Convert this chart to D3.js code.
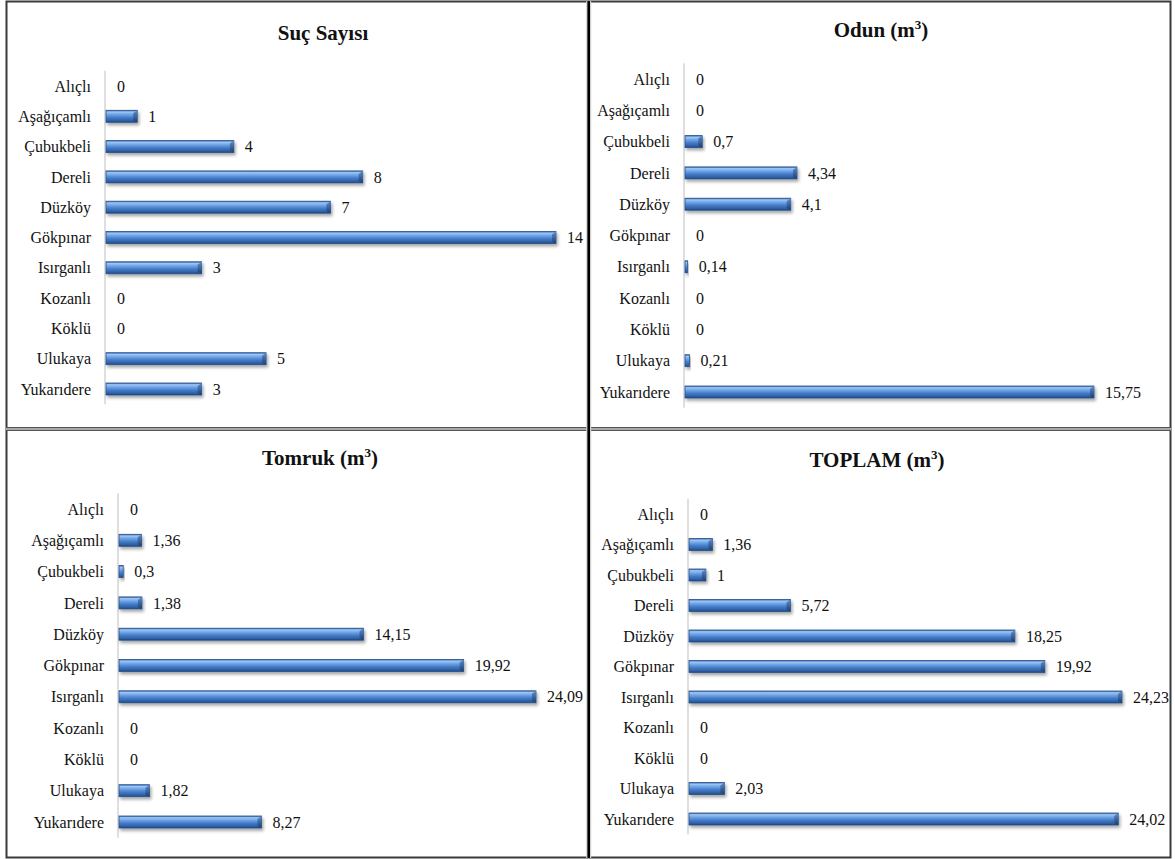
<!DOCTYPE html>
<html>
<head>
<meta charset="utf-8">
<script src="https://cdn.jsdelivr.net/npm/d3@7"></script>
<style>
  html, body { margin: 0; padding: 0; background: #fff; }
  svg { display: block; font-family: 'Liberation Serif'; }
  svg text { font-family: 'Liberation Serif'; }
</style>
</head>
<body>
<svg id="chart" width="1175" height="859"></svg>
<script>
// ---- Data ----
const categories = ["Alıçlı", "Aşağıçamlı", "Çubukbeli", "Dereli", "Düzköy", "Gökpınar", "Isırganlı", "Kozanlı", "Köklü", "Ulukaya", "Yukarıdere"];
const sucSayisi = [0, 1, 4, 8, 7, 14, 3, 0, 0, 5, 3];
const odun      = [0, 0, 0.7, 4.34, 4.1, 0, 0.14, 0, 0, 0.21, 15.75];
const tomruk    = [0, 1.36, 0.3, 1.38, 14.15, 19.92, 24.09, 0, 0, 1.82, 8.27];
const toplam    = [0, 1.36, 1, 5.72, 18.25, 19.92, 24.23, 0, 0, 2.03, 24.02];
const titles    = [["Suç Sayısı", false], ["Odun (m", true], ["Tomruk (m", true], ["TOPLAM (m", true]];

const FONT = "'Liberation Serif'";

// ---- Layout (positions only) ----
const panels = [
  { values: sucSayisi, title: titles[0], titleX: 323, titleY: 40, x0: 105, xMax: 14,    x1: 556,  yTop: 86,  yBot: 389 },
  { values: odun,      title: titles[1], titleX: 881, titleY: 37, x0: 684, xMax: 15.75, x1: 1094, yTop: 79,  yBot: 392 },
  { values: tomruk,    title: titles[2], titleX: 320, titleY: 465, x0: 118, xMax: 24.09, x1: 536, yTop: 509, yBot: 822 },
  { values: toplam,    title: titles[3], titleX: 877, titleY: 467, x0: 688, xMax: 24.23, x1: 1122, yTop: 514, yBot: 819 }
];

const svg = d3.select("#chart");
const defs = svg.append("defs");

const grad = defs.append("linearGradient").attr("id", "barGrad")
  .attr("x1", 0).attr("y1", 0).attr("x2", 0).attr("y2", 1);
[["0%", "#3566a8"], ["14%", "#9cc6f4"], ["35%", "#6fa3e6"], ["62%", "#4379c6"], ["85%", "#2f62a6"], ["100%", "#1c4379"]]
  .forEach(([o, c]) => grad.append("stop").attr("offset", o).attr("stop-color", c));

const endGrad = defs.append("linearGradient").attr("id", "endGrad")
  .attr("x1", 0).attr("y1", 0).attr("x2", 0).attr("y2", 1);
[["0%", "#5f8dcc"], ["100%", "#1a3f72"]]
  .forEach(([o, c]) => endGrad.append("stop").attr("offset", o).attr("stop-color", c));

const shadow = defs.append("filter").attr("id", "shadow")
  .attr("x", "-10%").attr("y", "-50%").attr("width", "130%").attr("height", "250%");
shadow.append("feDropShadow").attr("dx", 1.5).attr("dy", 2.5).attr("stdDeviation", 1.6)
  .attr("flood-color", "#000").attr("flood-opacity", 0.35);

const fmt = v => String(v).replace(".", ",");

panels.forEach(p => {
  const g = svg.append("g");
  const x = d3.scaleLinear().domain([0, p.xMax]).range([p.x0, p.x1]);
  const y = d3.scalePoint().domain(categories).range([p.yTop, p.yBot]);
  const step = y.step();
  const barH = 12;

  // title
  const t = g.append("text").attr("x", p.titleX).attr("y", p.titleY)
    .attr("text-anchor", "middle").attr("font-weight", "bold").attr("font-size", 21)
    .style("font-family", FONT).attr("fill", "#111");
  t.append("tspan").text(p.title[0]);
  if (p.title[1]) {
    t.append("tspan").attr("font-size", 13).attr("dy", -8).text("3");
    t.append("tspan").attr("dy", 8).text(")");
  }

  // axis line
  g.append("line")
    .attr("x1", x(0)).attr("x2", x(0))
    .attr("y1", p.yTop - step / 2).attr("y2", p.yBot + step / 2)
    .attr("stroke", "#d4d4d4").attr("stroke-width", 1.5);

  // category labels
  g.selectAll(".cat").data(categories).join("text")
    .attr("x", x(0) - 14).attr("y", d => y(d)).attr("dy", "0.35em")
    .attr("text-anchor", "end").attr("font-size", 16)
    .style("font-family", FONT).attr("fill", "#111").text(d => d);

  const rows = categories.map((c, i) => ({ c, v: p.values[i] }));

  // bars
  const bars = g.selectAll(".bar").data(rows.filter(d => d.v > 0)).join("g")
    .attr("filter", "url(#shadow)");
  bars.append("rect")
    .attr("x", x(0) + 1).attr("y", d => y(d.c) - barH / 2)
    .attr("width", d => Math.max(2.5, x(d.v) - x(0) - 1)).attr("height", barH)
    .attr("fill", "url(#barGrad)").attr("stroke", "#28528d").attr("stroke-width", 0.8);
  bars.filter(d => x(d.v) - x(0) > 8).append("path")
    .attr("d", d => {
      const xe = x(d.v), yt = y(d.c) - barH / 2;
      return `M${xe - 4},${yt + 3} L${xe},${yt} L${xe},${yt + barH} L${xe - 4},${yt + barH - 2} Z`;
    })
    .attr("fill", "url(#endGrad)");

  // value labels
  g.selectAll(".val").data(rows).join("text")
    .attr("x", d => x(d.v) + (d.v > 0 ? 11 : 12)).attr("y", d => y(d.c)).attr("dy", "0.35em")
    .attr("font-size", 16).style("font-family", FONT).attr("fill", "#111").text(d => fmt(d.v));
});

// ---- Frame ----
svg.append("rect").attr("x", 6.5).attr("y", 1.5).attr("width", 1164).attr("height", 856)
  .attr("fill", "none").attr("stroke", "#3a3a3a").attr("stroke-width", 2);
svg.append("rect").attr("x", 6).attr("y", 427).attr("width", 1165).attr("height", 4).attr("fill", "#a8a8a8");
svg.append("line").attr("x1", 6).attr("x2", 1171).attr("y1", 427.5).attr("y2", 427.5).attr("stroke", "#555").attr("stroke-width", 1.2);
svg.append("line").attr("x1", 6).attr("x2", 1171).attr("y1", 430.5).attr("y2", 430.5).attr("stroke", "#555").attr("stroke-width", 1.2);
svg.append("line").attr("x1", 588.7).attr("x2", 588.7).attr("y1", 1).attr("y2", 858)
  .attr("stroke", "#d0d0d0").attr("stroke-width", 5);
svg.append("line").attr("x1", 588.7).attr("x2", 588.7).attr("y1", 1).attr("y2", 858)
  .attr("stroke", "#000").attr("stroke-width", 2.6);
</script>
</body>
</html>
